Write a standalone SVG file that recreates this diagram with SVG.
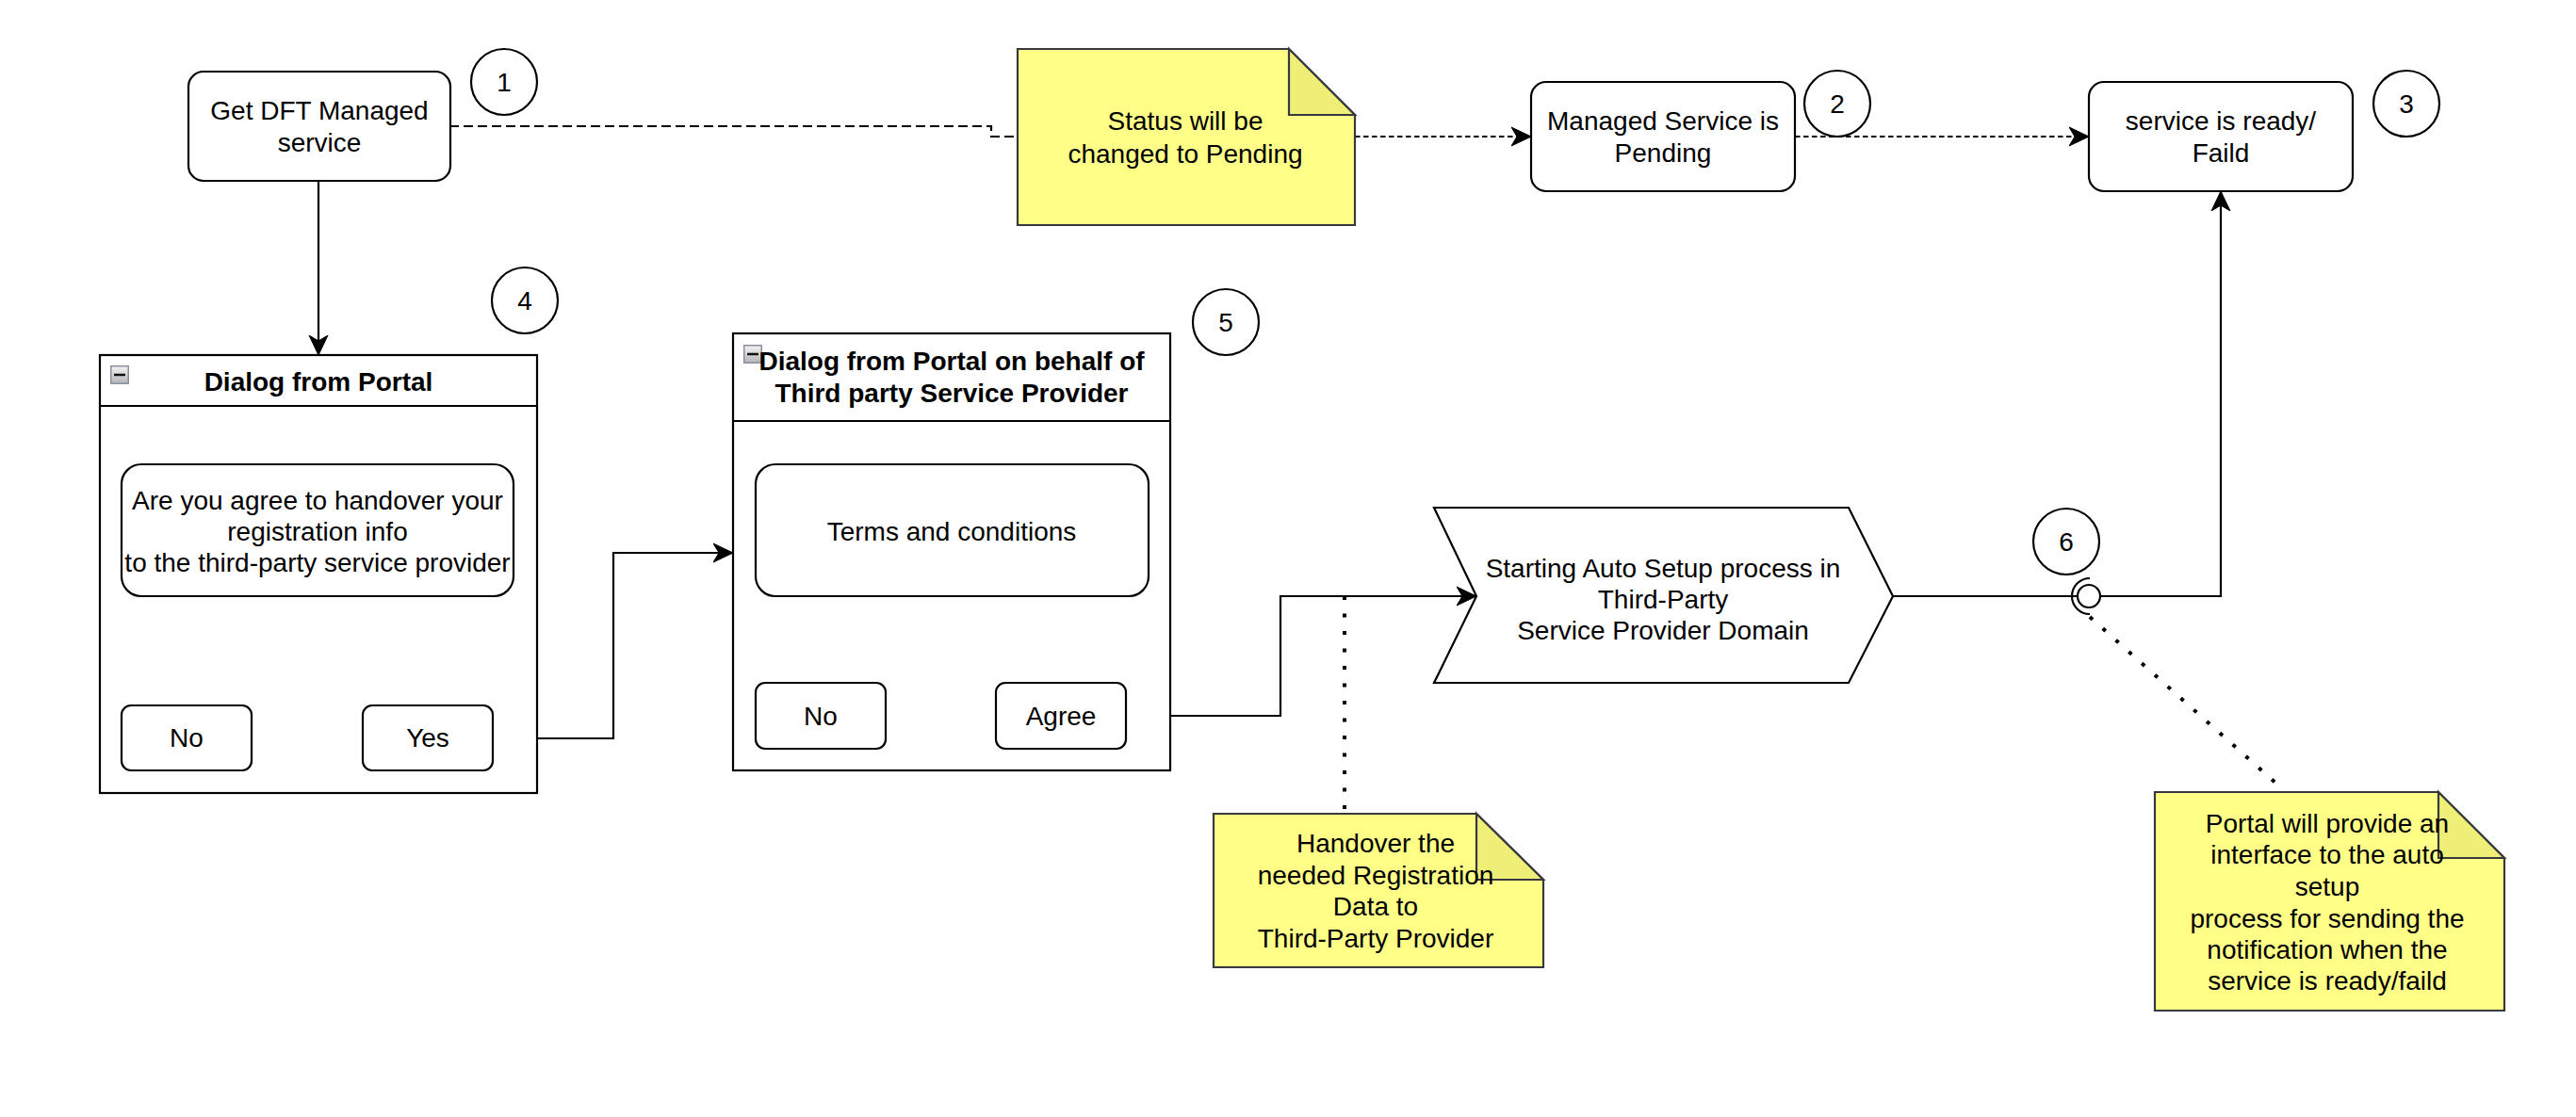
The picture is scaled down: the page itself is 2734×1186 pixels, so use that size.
<svg xmlns="http://www.w3.org/2000/svg" width="2734" height="1186" viewBox="0 0 2734 1186">
<defs>
<style>
.sh{fill:#ffffff;stroke:#000000;stroke-width:2.2}
.nt{fill:#ffff88;stroke:#36393d;stroke-width:2.2}
.fd{fill:#efef77;stroke:#36393d;stroke-width:2.2}
.t{font-family:"Liberation Sans",Arial,Helvetica,sans-serif;font-size:28px;fill:#000000;text-anchor:middle}
.b{font-weight:bold}
.e{fill:none;stroke:#000000;stroke-width:2.2}
.dsh{stroke-dasharray:10 5}
.dsh2{stroke-dasharray:5.5 3.5}
.dot{fill:none;stroke:#000000;stroke-width:4;stroke-dasharray:4 14.5}
</style>
<marker id="arr" viewBox="0 0 22 22" refX="21" refY="11" markerWidth="22" markerHeight="22" markerUnits="userSpaceOnUse" orient="auto">
<path d="M21,11 L0,1 L6,11 L0,21 Z" fill="#000000" stroke="#000000" stroke-width="1"/>
</marker>
<linearGradient id="ig" x1="0" y1="0" x2="0" y2="1">
<stop offset="0" stop-color="#f4f4f4"/>
<stop offset="1" stop-color="#b4b4b8"/>
</linearGradient>
<g id="minus">
<rect x="0.75" y="0.75" width="18.5" height="18.5" fill="url(#ig)" stroke="#8a90a0" stroke-width="1.5"/>
<line x1="4" y1="10" x2="16" y2="10" stroke="#111111" stroke-width="2.5"/>
</g>
</defs>
<rect x="0" y="0" width="2734" height="1186" fill="#ffffff"/>

<g id="connectors">
<path class="e dsh" d="M477,134 H1052 V145 H1080"/>
<path class="e dsh2" d="M1438,145 H1625" marker-end="url(#arr)"/>
<path class="e dsh2" d="M1905,145 H2217" marker-end="url(#arr)"/>
<path class="e" d="M338,192 V377" marker-end="url(#arr)"/>
<path class="e" d="M523,784 H651 V587 H778" marker-end="url(#arr)"/>
<path class="e" d="M1195,760 H1359 V633 H1567" marker-end="url(#arr)"/>
<path class="e" d="M2009,633 H2205"/>
<path class="e" d="M2229,633 H2357 V203" marker-end="url(#arr)"/>
<path class="dot" d="M1427,633 V864"/>
<path class="dot" d="M2218,655 L2425,840"/>
</g>

<g id="lollipop">
<path class="e" d="M2218,614 A19,19 0 1 0 2218,652"/>
<circle cx="2217" cy="633" r="12" class="sh"/>
</g>

<g id="node-get-dft">
<rect x="200" y="76" width="278" height="116" rx="16" ry="16" class="sh"/>
<text class="t" x="339" y="127">Get DFT Managed</text>
<text class="t" x="339" y="161">service</text>
</g>
<g id="badge-1">
<circle cx="535" cy="87" r="35" class="sh"/>
<text class="t" x="535" y="97">1</text>
</g>

<g id="note-status">
<path class="nt" d="M1080,52 H1368 L1438,122 V239 H1080 Z"/>
<path class="fd" d="M1368,52 V122 H1438 Z"/>
<text class="t" x="1258" y="138">Status will be</text>
<text class="t" x="1258" y="173">changed to Pending</text>
</g>

<g id="node-pending">
<rect x="1625" y="87" width="280" height="116" rx="16" ry="16" class="sh"/>
<text class="t" x="1765" y="138">Managed Service is</text>
<text class="t" x="1765" y="172">Pending</text>
</g>
<g id="badge-2">
<circle cx="1950" cy="110" r="35" class="sh"/>
<text class="t" x="1950" y="120">2</text>
</g>

<g id="node-ready">
<rect x="2217" y="87" width="280" height="116" rx="16" ry="16" class="sh"/>
<text class="t" x="2357" y="138">service is ready/</text>
<text class="t" x="2357" y="172">Faild</text>
</g>
<g id="badge-3">
<circle cx="2554" cy="110" r="35" class="sh"/>
<text class="t" x="2554" y="120">3</text>
</g>

<g id="badge-4">
<circle cx="557" cy="319" r="35" class="sh"/>
<text class="t" x="557" y="329">4</text>
</g>

<g id="dialog-portal">
<rect x="106" y="377" width="464" height="465" class="sh"/>
<line x1="106" y1="431" x2="570" y2="431" stroke="#000000" stroke-width="2.2"/>
<use href="#minus" x="117" y="388"/>
<text class="t b" x="338" y="415">Dialog from Portal</text>
<g id="dialog-portal-question">
<rect x="129" y="493" width="416" height="140" rx="21" ry="21" class="sh"/>
<text class="t" x="337" y="541">Are you agree to handover your</text>
<text class="t" x="337" y="574">registration info</text>
<text class="t" x="337" y="607">to the third-party service provider</text>
</g>
<g id="btn-no-1">
<rect x="129" y="749" width="138" height="69" rx="10" ry="10" class="sh"/>
<text class="t" x="198" y="793">No</text>
</g>
<g id="btn-yes">
<rect x="385" y="749" width="138" height="69" rx="10" ry="10" class="sh"/>
<text class="t" x="454" y="793">Yes</text>
</g>
</g>

<g id="badge-5">
<circle cx="1301" cy="342" r="35" class="sh"/>
<text class="t" x="1301" y="352">5</text>
</g>

<g id="dialog-third-party">
<rect x="778" y="354" width="464" height="464" class="sh"/>
<line x1="778" y1="447" x2="1242" y2="447" stroke="#000000" stroke-width="2.2"/>
<use href="#minus" x="789" y="366"/>
<text class="t b" x="1010" y="393">Dialog from Portal on behalf of</text>
<text class="t b" x="1010" y="427">Third party Service Provider</text>
<g id="dialog-terms">
<rect x="802" y="493" width="417" height="140" rx="21" ry="21" class="sh"/>
<text class="t" x="1010" y="574">Terms and conditions</text>
</g>
<g id="btn-no-2">
<rect x="802" y="725" width="138" height="70" rx="10" ry="10" class="sh"/>
<text class="t" x="871" y="770">No</text>
</g>
<g id="btn-agree">
<rect x="1057" y="725" width="138" height="70" rx="10" ry="10" class="sh"/>
<text class="t" x="1126" y="770">Agree</text>
</g>
</g>

<g id="node-auto-setup">
<path class="sh" d="M1522,539 H1962 L2009,633 L1962,725 H1522 L1567,633 Z"/>
<text class="t" x="1765" y="613">Starting Auto Setup process in</text>
<text class="t" x="1765" y="646">Third-Party</text>
<text class="t" x="1765" y="679">Service Provider Domain</text>
</g>

<g id="badge-6">
<circle cx="2193" cy="575" r="35" class="sh"/>
<text class="t" x="2193" y="585">6</text>
</g>

<g id="note-handover">
<path class="nt" d="M1288,864 H1567 L1638,934 V1027 H1288 Z"/>
<path class="fd" d="M1567,864 V934 H1638 Z"/>
<text class="t" x="1460" y="905">Handover the</text>
<text class="t" x="1460" y="939">needed Registration</text>
<text class="t" x="1460" y="972">Data to</text>
<text class="t" x="1460" y="1006">Third-Party Provider</text>
</g>

<g id="note-portal">
<path class="nt" d="M2287,841 H2588 L2658,911 V1073 H2287 Z"/>
<path class="fd" d="M2588,841 V911 H2658 Z"/>
<text class="t" x="2470" y="884">Portal will provide an</text>
<text class="t" x="2470" y="917">interface to the auto</text>
<text class="t" x="2470" y="951">setup</text>
<text class="t" x="2470" y="985">process for sending the</text>
<text class="t" x="2470" y="1018">notification when the</text>
<text class="t" x="2470" y="1051">service is ready/faild</text>
</g>
</svg>
